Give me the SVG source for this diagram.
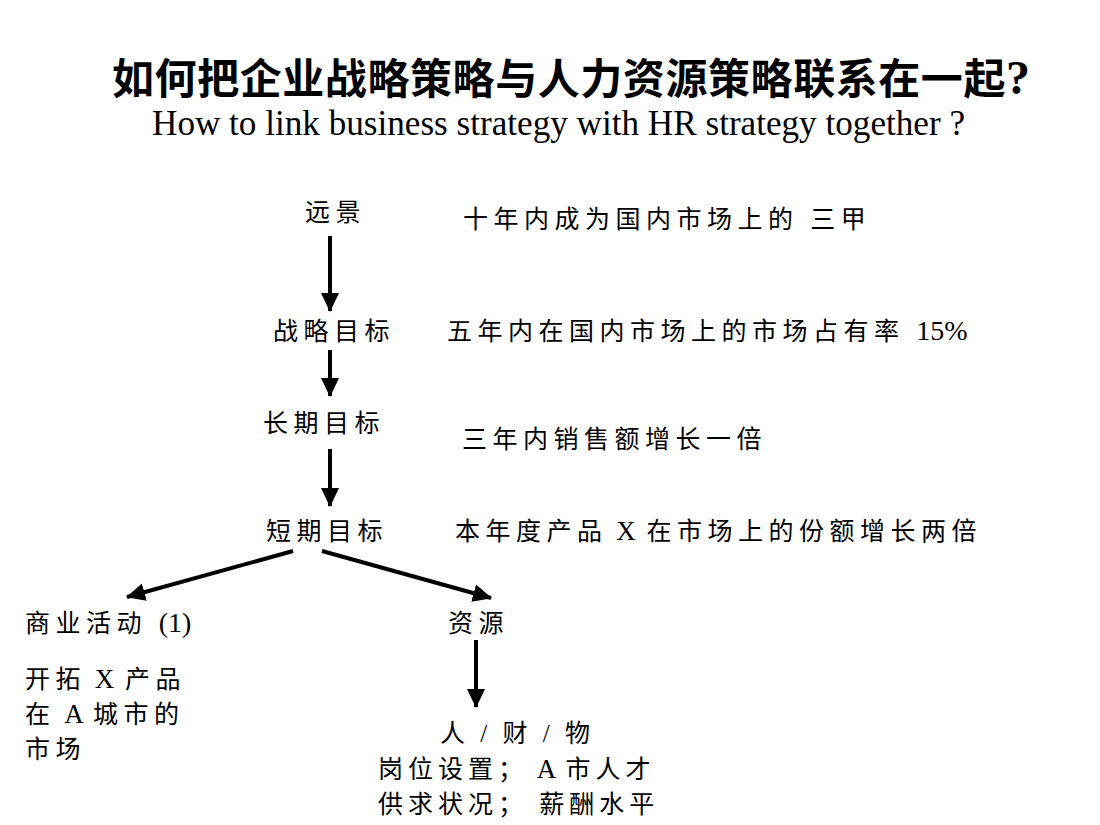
<svg xmlns="http://www.w3.org/2000/svg" width="1100" height="825" viewBox="0 0 1100 825">
<style>
.t{font-family:"Liberation Serif","Noto Sans CJK SC",serif;font-size:25px;letter-spacing:5.5px;fill:#000}
.l{letter-spacing:2px;font-size:27px}
.n{letter-spacing:0;font-size:28px}
.title{font-family:"Liberation Serif","Noto Sans CJK SC",serif;font-size:42px;font-weight:bold;fill:#000}
.sub{font-family:"Liberation Serif","Noto Sans CJK SC",serif;font-size:36px;fill:#000}
.c{stroke:#000;stroke-width:4;fill:none}
</style>
<defs>
<marker id="ah" markerUnits="userSpaceOnUse" markerWidth="20" markerHeight="20" viewBox="0 0 20 20" refX="18" refY="10" orient="auto">
<path d="M0,1 L19,10 L0,19 Z" fill="#000"/>
</marker>
</defs>
<rect width="1100" height="825" fill="#fff"/>
<g id="title">
<text class="title" x="112" y="94" textLength="918" lengthAdjust="spacing">如何把企业战略策略与人力资源策略联系在一起<tspan font-size="48">?</tspan></text>
<text class="sub" x="152" y="135" textLength="813" lengthAdjust="spacingAndGlyphs">How to link business strategy with HR strategy together ?</text>
</g>
<g id="connectors">
<line class="c" x1="330" y1="236" x2="330" y2="311" marker-end="url(#ah)"/>
<line class="c" x1="330" y1="350" x2="330" y2="396" marker-end="url(#ah)"/>
<line class="c" x1="330" y1="449" x2="330" y2="506" marker-end="url(#ah)"/>
<line class="c" x1="293" y1="551" x2="127" y2="597" marker-end="url(#ah)"/>
<line class="c" x1="322" y1="551" x2="491" y2="598" marker-end="url(#ah)"/>
<line class="c" x1="476" y1="640" x2="476" y2="707" marker-end="url(#ah)"/>
</g>
<g id="vision">
<text class="t" x="305" y="221">远景</text>
<text class="t" x="463" y="228">十年内成为国内市场上的 三甲</text>
</g>
<g id="strategic-goal">
<text class="t" x="273" y="340">战略目标</text>
<text class="t" x="447" y="340">五年内在国内市场上的市场占有率 <tspan class="n">15%</tspan></text>
</g>
<g id="long-term">
<text class="t" x="263" y="432">长期目标</text>
<text class="t" x="462" y="448">三年内销售额增长一倍</text>
</g>
<g id="short-term">
<text class="t" x="266" y="540">短期目标</text>
<text class="t" x="455" y="540">本年度产品<tspan class="l"> X </tspan>在市场上的份额增长两倍</text>
</g>
<g id="business">
<text class="t" x="25" y="632">商业活动 <tspan class="n">(1)</tspan></text>
<text class="t" x="25" y="688">开拓<tspan class="l"> X </tspan>产品</text>
<text class="t" x="25" y="723">在<tspan class="l"> A </tspan>城市的</text>
<text class="t" x="25" y="758">市场</text>
</g>
<g id="resources">
<text class="t" x="448" y="632">资源</text>
</g>
<g id="resource-detail">
<text class="t" x="440" y="742" style="letter-spacing:4.5px">人 / 财 / 物</text>
<text class="t" x="378" y="778" style="letter-spacing:5px">岗位设置；<tspan class="l"> A </tspan>市人才</text>
<text class="t" x="378" y="813" style="letter-spacing:5px">供求状况； 薪酬水平</text>
</g>
</svg>
